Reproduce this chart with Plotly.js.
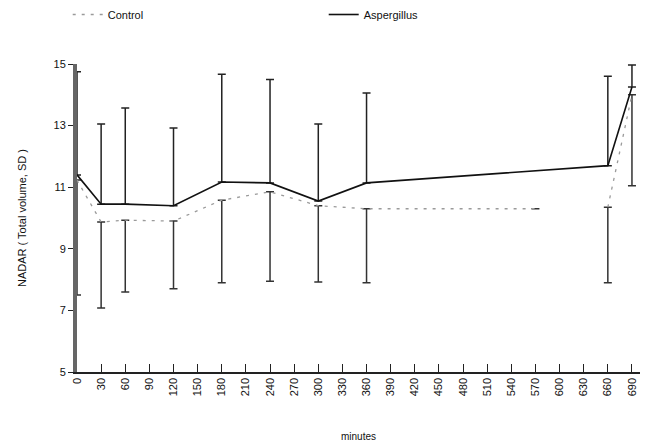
<!DOCTYPE html>
<html>
<head>
<meta charset="utf-8">
<script src="https://cdn.plot.ly/plotly-3.0.1.min.js"></script>
<style>html,body{margin:0;padding:0;background:#fff;}#chart{width:651px;height:447px;}</style>
</head>
<body>
<div id="chart"></div>
<script>
// minutes
var aspMinutes = [0, 30, 60, 120, 180, 240, 300, 360, 660, 690];
var aspValues  = [11.4, 10.45, 10.45, 10.4, 11.17, 11.14, 10.55, 11.14, 11.7, 14.25];
var aspSDUp    = [3.35, 2.6, 3.12, 2.52, 3.5, 3.36, 2.5, 2.92, 2.9, 0.72];

var ctlMinutes = [0, 30, 60, 120, 180, 240, 300, 360, 570, null, 660, 690];
var ctlValues  = [11.23, 9.87, 9.93, 9.9, 10.58, 10.85, 10.4, 10.3, 10.3, null, 10.35, 14.0];
var ctlSDDown  = [3.73, 2.79, 2.33, 2.2, 2.68, 2.9, 2.48, 2.4, 0, null, 2.45, 2.95];

var xTicks = [];
for (var t = 0; t <= 690; t += 30) xTicks.push(t);

var font = "Liberation Sans, Arial, sans-serif";

var traces = [
  {
    x: ctlMinutes, y: ctlValues, name: "Control", type: "scatter", mode: "lines",
    connectgaps: false,
    line: {color: "#9a9a9a", width: 1.3, dash: "3px,6px"},
    error_y: {type: "data", symmetric: false, array: ctlMinutes.map(function(){return 0;}),
              arrayminus: ctlSDDown, color: "#333", thickness: 1.5, width: 4}
  },
  {
    x: aspMinutes, y: aspValues, name: "Aspergillus", type: "scatter", mode: "lines",
    line: {color: "#111", width: 1.6},
    error_y: {type: "data", symmetric: false, array: aspSDUp,
              arrayminus: aspMinutes.map(function(){return 0;}), color: "#222", thickness: 1.5, width: 4}
  }
];

var layout = {
  width: 651, height: 447,
  margin: {l: 77, r: 11, t: 64, b: 75},
  paper_bgcolor: "#fff", plot_bgcolor: "#fff",
  font: {family: font, size: 11, color: "#111"},
  showlegend: true,
  legend: {orientation: "h", xref: "container", yref: "container",
           x: 0.104, xanchor: "left", y: 1.0, yanchor: "top",
           entrywidth: 211, entrywidthmode: "pixels", font: {size: 11, family: font}},
  xaxis: {
    range: [0, 700], tickmode: "array", tickvals: xTicks, ticktext: xTicks.map(String),
    tickangle: -90, ticks: "inside", ticklen: 8, tickcolor: "#222", tickwidth: 1,
    showline: true, linecolor: "#222", linewidth: 1.5, showgrid: false, zeroline: false,
    tickfont: {size: 11, family: font},
    title: {text: "minutes", font: {size: 10, family: font}, standoff: 37}
  },
  yaxis: {
    range: [5, 15], tickmode: "array", tickvals: [5, 7, 9, 11, 13, 15],
    ticks: "outside", ticklen: 5, tickcolor: "#222",
    showline: true, linecolor: "#666", linewidth: 4, showgrid: false, zeroline: false,
    tickfont: {size: 11, family: font},
    title: {text: "NADAR ( Total volume, SD )", font: {size: 11, family: font}, standoff: 26}
  }
};

Plotly.newPlot("chart", traces, layout, {displayModeBar: false, staticPlot: true});
</script>
</body>
</html>
